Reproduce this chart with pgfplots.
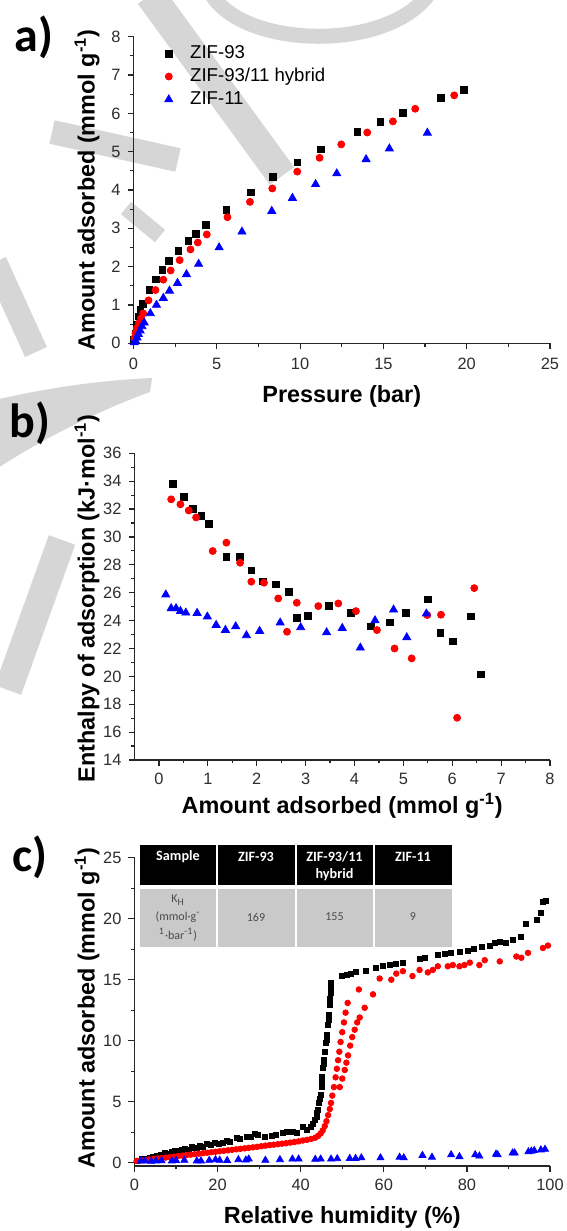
\documentclass[border=0pt]{standalone}
\usepackage{fontspec}
\setmainfont{Liberation Sans}
\newfontfamily\calib{Carlito}
\usepackage{pgfplots}
\pgfplotsset{compat=1.18}
\definecolor{tickgray}{HTML}{2E2E2E}
\definecolor{cellgray}{HTML}{C9C9C9}
\definecolor{celltext}{HTML}{4A4A4A}
\definecolor{zred}{HTML}{FF0000}
\definecolor{zblue}{HTML}{0000FF}
\definecolor{wmgray}{HTML}{D6D6D6}
\pgfplotsset{
  zif/.style={
    scale only axis,
    axis lines=left,
    axis line style={-, color=black!85, line width=0.6pt},
    every outer x axis line/.append style={-},
    every outer y axis line/.append style={-},
    every inner x axis line/.append style={-},
    every inner y axis line/.append style={-},
    every non boxed x axis/.append style={xtick align=outside},
    every non boxed y axis/.append style={ytick align=outside},
    tick align=outside,
    major tick length=3pt,
    minor tick length=1.7pt,
    every tick/.style={black!85, line width=0.6pt},
    minor x tick num=1,
    minor y tick num=1,
    tick label style={font=\fontsize{8.2}{9.5}\selectfont, text=tickgray},
    /pgf/number format/assume math mode=true,
    label style={font=\bfseries\fontsize{11.7}{13}\selectfont},
    xlabel style={anchor=center},
    ylabel style={anchor=center},
    clip=false,
  },
  sq/.style={only marks, mark=square*, mark size=#1, color=black},
  ci/.style={only marks, mark=*, mark size=#1, color=zred},
  tr/.style={only marks, mark=triangle*, mark size=#1, color=zblue},
}
\begin{document}
\begin{tikzpicture}
\useasboundingbox (0,0) rectangle (283.5pt,-615.5pt);
\fill[white] (0,0) rectangle (283.5pt,-615.5pt);

% ---------------- background watermark ----------------
\begin{scope}[x=0.5pt, y=-0.5pt, draw=wmgray, line cap=butt]
\draw[line width=15pt] (150,-5) -- (282,176);
\draw[line width=7.5pt] (212,-5) .. controls (245,48) and (385,52) .. (428,-5);
\draw[line width=12pt] (52,132) -- (178,160);
\draw[line width=8pt] (126,208) -- (160,236);
\draw[line width=12pt] (-5,262) -- (36,352);
\fill[wmgray] (-5,400) .. controls (60,385) and (110,380) .. (152,378) -- (150,392) .. controls (100,410) and (40,440) .. (-5,470) -- cycle;
\draw[line width=14pt] (62,540) -- (8,690);
\end{scope}

% ---------------- panel a ----------------
\begin{axis}[zif, at={(66.75pt,-171.65pt)}, anchor=south west,
  width=208.25pt, height=153.3pt,
  xmin=0, xmax=25, ymin=0, ymax=8,
  xtick={0,5,...,25}, ytick={0,1,...,8},
  xticklabel style={yshift=-1pt},
  xlabel={Pressure (bar)},
  ylabel={Amount adsorbed (mmol g\textsuperscript{-1})},
  xlabel style={at={(axis description cs:0.5,-0.174)}},
  ylabel style={at={(axis description cs:-0.1116,0.5)}},
  legend style={draw=none, fill=none, at={(axis description cs:0,1)}, anchor=north west,
    xshift=15.45pt, yshift=-3.2pt, inner sep=0pt, row sep=1.4pt, column sep=7.7pt,
    font=\fontsize{9.3}{10.5}\selectfont, nodes={inner sep=1pt}},
  legend cell align=left,
]
\addplot[sq=1.7pt] coordinates {
(0.03,0.09) (0.12,0.26) (0.2,0.48) (0.32,0.70) (0.42,0.87) (0.58,1.03)
(0.95,1.39) (1.34,1.67) (1.73,1.91) (2.14,2.14) (2.70,2.41) (3.29,2.68)
(3.73,2.85) (4.34,3.08) (5.58,3.49) (7.03,3.94) (8.39,4.35) (9.84,4.72)
(11.26,5.06) (13.44,5.52) (14.82,5.78) (16.18,6.02) (18.47,6.40) (19.84,6.61)};
\addplot[ci=1.75pt] coordinates {
(0.05,0.13) (0.12,0.26) (0.2,0.39) (0.32,0.52) (0.45,0.65) (0.58,0.78)
(0.90,1.12) (1.32,1.39) (1.79,1.66) (2.23,1.90) (2.77,2.17) (3.42,2.45)
(3.86,2.63) (4.40,2.84) (5.64,3.29) (6.99,3.69) (8.33,4.04) (9.83,4.48)
(11.17,4.84) (12.47,5.19) (14.03,5.50) (15.57,5.79) (16.91,6.12) (19.25,6.47)};
\addplot[tr=2.3pt] coordinates {
(0.05,0.02) (0.12,0.07) (0.21,0.15) (0.29,0.24) (0.40,0.33) (0.51,0.44)
(0.64,0.54) (1.01,0.78) (1.38,1.00) (1.79,1.18) (2.16,1.37) (2.64,1.57)
(3.18,1.80) (3.91,2.07) (5.14,2.50) (6.51,2.91) (8.30,3.45) (9.54,3.79)
(10.93,4.15) (12.2,4.43) (13.96,4.80) (15.36,5.08) (17.64,5.49)};
\legend{ZIF-93, ZIF-93/11 hybrid, ZIF-11}
\end{axis}

% ---------------- panel b ----------------
\begin{axis}[zif, at={(67.25pt,-380pt)}, anchor=south west,
  width=207.75pt, height=153.35pt,
  xmin=-0.5, xmax=8, ymin=14, ymax=36,
  xtick={0,1,...,8}, ytick={14,16,...,36},
  xlabel={Amount adsorbed (mmol g\textsuperscript{-1})},
  ylabel={Enthalpy of adsorption (kJ·mol\textsuperscript{-1})},
  xlabel style={at={(axis description cs:0.5,-0.150)}},
  ylabel style={at={(axis description cs:-0.1143,0.527)}},
]
\addplot[sq=1.7pt] coordinates {
(0.29,33.78) (0.51,32.87) (0.70,32.03) (0.87,31.53) (1.02,30.95) (1.38,28.58)
(1.65,28.56) (1.89,27.6) (2.13,26.81) (2.39,26.6) (2.66,26.05) (2.83,24.2)
(3.05,24.33) (3.48,25.04) (3.93,24.54) (4.33,23.58) (4.72,23.87) (5.05,24.56)
(5.5,25.52) (5.76,23.1) (6.02,22.51) (6.38,24.3) (6.59,20.14)};
\addplot[ci=1.75pt] coordinates {
(0.25,32.7) (0.44,32.34) (0.61,31.9) (0.76,31.4) (1.1,28.99) (1.38,29.59)
(1.66,28.15) (1.89,26.79) (2.15,26.72) (2.44,25.59) (2.62,23.2) (2.82,25.28)
(3.26,25.04) (3.67,25.23) (4.03,24.68) (4.46,23.32) (4.82,22.0) (5.17,21.29)
(5.49,24.4) (5.77,24.42) (6.1,17.03) (6.45,26.33)};
\addplot[tr=2.3pt] coordinates {
(0.14,25.86) (0.25,24.88) (0.35,24.88) (0.44,24.68) (0.55,24.56) (0.78,24.54)
(0.99,24.28) (1.17,23.68) (1.36,23.32) (1.57,23.58) (1.79,22.94) (2.06,23.25)
(2.48,23.85) (2.9,23.51) (3.43,23.15) (3.75,23.46) (4.12,22.05) (4.42,24.01)
(4.8,24.78) (5.07,22.79) (5.47,24.49)};
\end{axis}

% ---------------- panel c ----------------
\begin{axis}[zif, at={(67.25pt,-583pt)}, anchor=south west,
  width=207.75pt, height=154.15pt,
  xmin=0, xmax=100, ymin=-0.27, ymax=25,
  xtick={0,20,...,100}, ytick={0,5,...,25},
  xlabel={Relative humidity (\%)},
  ylabel={Amount adsorbed (mmol g\textsuperscript{-1})},
  xlabel style={at={(axis description cs:0.5,-0.1654)}},
  ylabel style={at={(axis description cs:-0.1143,0.5125)}},
]
\addplot[sq=1.25pt] coordinates {
(0.5,0.15) (1.7,0.28) (2.8,0.35) (3.6,0.42) (4.5,0.5) (5.5,0.55) (6.4,0.68)
(7.3,0.8) (8.2,0.75) (9.0,0.9) (9.7,0.98) (10.6,0.95) (11.4,1.05) (12.1,1.1)
(13.0,1.05) (13.7,1.26) (14.4,1.22) (15.0,1.2) (15.7,1.37) (16.5,1.3) (17.4,1.53)
(18.3,1.45) (19.4,1.64) (20.2,1.55) (21.2,1.62) (22.2,1.8) (23.0,1.7) (24.6,2.02)
(25.4,1.95) (27.0,2.08) (28.0,2.1) (29.0,2.35) (29.8,2.3) (31.5,2.1) (33.0,2.19)
(34.0,2.3) (35.8,2.41) (36.6,2.5) (38.2,2.54) (39.2,2.45) (40.6,2.9) (41.5,2.7)
(42.4,2.95) (43.0,3.2) (43.4,3.5) (43.8,3.77) (44.0,4.1) (44.2,4.32) (44.4,4.87)
(44.6,5.2) (44.8,5.55) (45.0,6.23) (45.1,6.6) (45.2,7.05) (45.4,7.74) (45.5,8.1)
(45.6,8.42) (45.9,9.1) (46.0,9.79) (46.2,10.1) (46.3,10.47) (46.6,11.29) (46.7,11.7)
(46.8,12.1) (47.0,12.9) (47.1,13.4) (47.2,13.9) (47.3,14.3) (47.3,14.7)
(50.0,15.3) (51.0,15.4) (52.2,15.5) (53.4,15.6) (55.6,15.7) (58.2,16.0) (59.8,16.1)
(61.4,16.2) (63.0,16.3) (64.6,16.4) (68.6,16.7) (69.8,16.8) (73.0,17.0) (74.6,17.1)
(76.2,17.2) (78.2,17.3) (80.2,17.4) (81.8,17.5) (83.5,17.7) (85.5,17.8) (86.7,18.0)
(87.9,18.1) (89.5,18.0) (91.1,18.3) (93.1,18.5) (94.3,19.6) (96.9,19.9) (97.9,20.5)
(98.3,21.4) (99.1,21.5)};
\addplot[ci=1.4pt] coordinates {
(0.5,0.15) (1.5,0.2) (2.5,0.22) (3.5,0.27) (4.5,0.3) (5.5,0.35) (6.5,0.38)
(7.5,0.42) (8.5,0.46) (9.5,0.5) (10.5,0.55) (11.5,0.58) (12.5,0.62) (13.5,0.66)
(14.5,0.7) (15.5,0.74) (16.5,0.78) (17.5,0.82) (18.5,0.86) (19.5,0.9) (20.5,0.94)
(21.5,0.98) (22.5,1.02) (23.5,1.06) (24.5,1.1) (25.5,1.14) (26.5,1.18) (27.5,1.22)
(28.5,1.26) (29.5,1.3) (30.5,1.35) (31.5,1.4) (32.5,1.44) (33.5,1.48) (34.5,1.52)
(35.5,1.56) (36.5,1.6) (37.5,1.65) (38.5,1.7) (39.5,1.75) (40.5,1.82) (41.5,1.88)
(42.5,1.95) (43.5,2.05) (44.2,2.2) (44.8,2.4) (45.3,2.65) (45.8,3.0) (46.2,3.4)
(46.6,3.9) (47.0,4.4) (47.3,4.9) (47.6,5.5) (48.0,6.2) (48.4,7.0) (48.7,7.7)
(49.0,8.4) (49.3,9.1) (49.6,9.9) (50.0,10.7) (50.4,11.5) (50.8,12.3) (51.3,13.1)
(54.0,14.2) (49.4,6.2) (50.0,6.9) (50.6,7.6) (51.0,8.2) (51.4,8.8) (51.9,9.6)
(52.4,10.3) (53.0,10.9) (53.6,11.5) (54.2,11.9) (55.4,12.7) (57.4,13.8)
(59.0,15.1) (61.8,15.0) (63.0,15.5) (64.6,15.7) (66.9,15.3) (68.6,15.8) (70.6,15.6)
(71.8,15.8) (73.0,16.1) (75.4,16.1) (76.6,16.2) (78.2,16.1) (79.4,16.2) (80.7,16.4)
(83.0,16.2) (84.3,16.6) (87.9,16.5) (91.9,16.9) (93.1,16.8) (94.7,17.2) (98.3,17.6)
(99.5,17.8)};
\addplot[tr=2.0pt] coordinates {
(1.5,0.15) (2.5,0.15) (4.0,0.12) (5.2,0.15) (6.5,0.17) (9.0,0.15) (10.0,0.18)
(12.0,0.2) (15.0,0.15) (16.0,0.15) (18.0,0.2) (19.5,0.25) (20.5,0.2) (22.3,0.18)
(25.0,0.25) (26.8,0.22) (27.5,0.3) (31.5,0.2) (35.0,0.25) (38.0,0.3) (39.5,0.3)
(43.5,0.28) (44.8,0.3) (47.3,0.3) (48.8,0.33) (51.8,0.35) (53.2,0.35) (54.6,0.4)
(59.2,0.4) (63.8,0.45) (64.8,0.4) (69.3,0.6) (71.6,0.45) (76.2,0.65) (78.2,0.5)
(82.0,0.65) (83.0,0.55) (87.0,0.7) (87.4,0.65) (91.0,0.8) (91.5,0.8) (94.8,0.9)
(95.5,0.95) (96.2,1.0) (97.8,1.05) (98.8,1.1)};
\end{axis}

% ---------------- table in panel c ----------------
\begin{scope}[x=0.5pt, y=-0.5pt]
\fill[black] (139.5,845) rectangle (216,884.5);
\fill[black] (218,845) rectangle (294.5,884.5);
\fill[black] (296.5,845) rectangle (372.5,884.5);
\fill[black] (374.5,845) rectangle (451.5,884.5);
\fill[cellgray] (139.5,888.5) rectangle (216,946.5);
\fill[cellgray] (218,888.5) rectangle (294.5,946.5);
\fill[cellgray] (296.5,888.5) rectangle (372.5,946.5);
\fill[cellgray] (374.5,888.5) rectangle (451.5,946.5);
\begin{scope}[every node/.style={text=white, font=\calib\bfseries\fontsize{7.1}{8.5}\selectfont, inner sep=0pt}]
\node at (178,857) {Sample};
\node at (256,857) {ZIF-93};
\node at (334.5,857) {ZIF-93/11};
\node at (334.5,874.5) {hybrid};
\node at (413,857) {ZIF-11};
\end{scope}
\begin{scope}[every node/.style={text=celltext, font=\calib\fontsize{6}{7}\selectfont, inner sep=0pt}]
\node at (178,900) {K\textsubscript{H}};
\node at (178,917) {(mmol·g\textsuperscript{-}};
\node at (178,935) {\textsuperscript{1}·bar\textsuperscript{-1})};
\node at (256,917) {169};
\node at (334.5,917) {155};
\node at (413,917) {9};
\end{scope}
% panel labels
\begin{scope}[every node/.style={font=\calib\bfseries\fontsize{24}{26}\selectfont, inner sep=0pt}]
\node at (34,37) {a)};
\node at (30,423) {b)};
\node at (30,857) {c)};
\end{scope}
\end{scope}
\end{tikzpicture}
\end{document}
